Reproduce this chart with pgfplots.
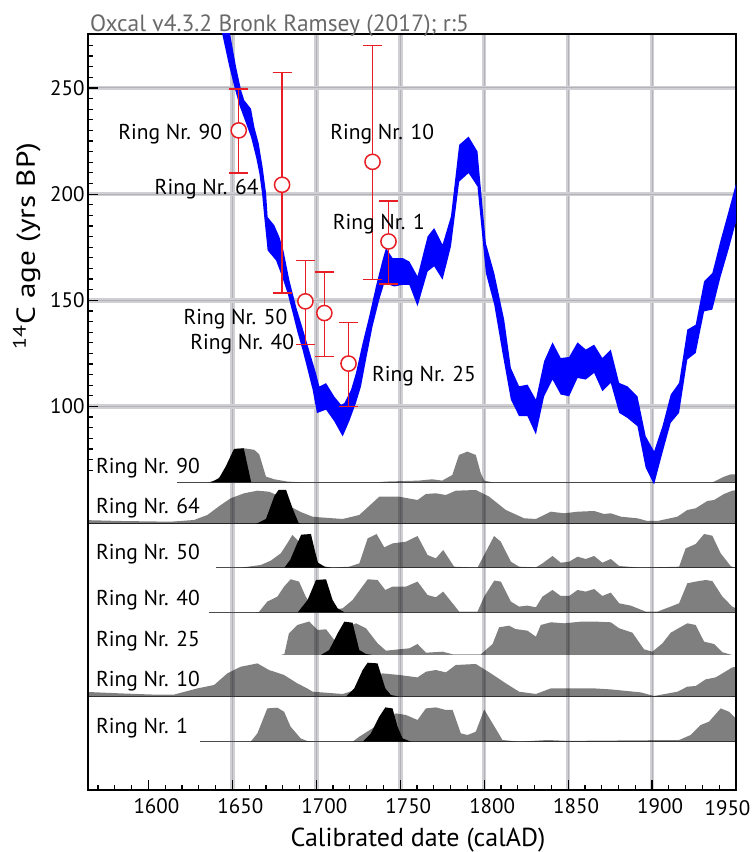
\documentclass[border=0pt]{standalone}
\usepackage{pgfplots}
\pgfplotsset{compat=1.18}
\usepackage{pgfplotstable}
\usepackage{graphicx}
\usepackage{fontspec}
\setmainfont{PT Sans}
\definecolor{ptred}{RGB}{232,30,36}
\definecolor{gridc}{RGB}{208,208,212}
\definecolor{gridd}{RGB}{178,178,184}
\definecolor{titlegray}{RGB}{105,105,105}
\newcommand{\ticfont}{\fontsize{21}{25}\selectfont}
\newcommand{\ringfont}{\fontsize{21.5}{25}\selectfont}
\newcommand{\labfont}{\fontsize{26}{30}\selectfont}
\newcommand{\titfont}{\fontsize{23.5}{27}\selectfont}
\pgfplotsset{
  frame/.style={anchor=south west, width=648pt, height=756pt, scale only axis,
    xmin=1564, xmax=1950, ymin=-80.6, ymax=275.4},
  ridge/.style={anchor=south west, width=648pt, height=40pt, scale only axis,
    xmin=1564, xmax=1950, ymin=0, ymax=40, hide axis}
}
% #1 base (pt above frame bottom), #2 label, #3 label baseline height, #4 gray table, #5 black table, #6 baseline start, #7 baseline width
\newcommand{\ridge}[7]{%
  \begin{axis}[ridge, at={(0pt,#1pt)}]
    \draw[black!70, line width=#7] (axis cs:#6,0) -- (axis cs:1950,0);
    \addplot[fill=black, fill opacity=0.5, draw=none] table {#4} \closedcycle;
    \addplot[fill=black, draw=none] table {#5} \closedcycle;
    \node[anchor=base west, font=\ringfont, inner sep=0pt] at (axis cs:1568.7,#3) {#2};
  \end{axis}}
\begin{document}
% calibration band outline: upper edge left to right, then lower edge right to left
\pgfplotstableread{
x y
1646.4 285
1648.6 275.6
1652.2 259.9
1655.2 248.9
1657.1 244.2
1661.1 240.2
1663.1 231.6
1665.7 223.8
1668.0 212.8
1670.1 200.2
1671.0 189.2
1675.0 185.3
1678.0 179.8
1680.4 173.5
1683.9 159.7
1687.9 147.1
1690.9 139.3
1693.9 131.4
1696.8 123.6
1699.8 115.7
1701.8 109.4
1705.8 111.0
1710.7 104.7
1714.7 100.8
1716.7 101.6
1720.7 107.9
1723.6 115.7
1727.6 129.9
1731.5 142.4
1735.5 156.5
1739.5 169.1
1741.5 174.6
1745.4 169.9
1751.4 169.9
1755.4 168.3
1760.3 161.3
1766.3 180.1
1770.2 184.0
1775.2 176.2
1780.2 189.5
1785.1 223.2
1790.7 227.1
1796.0 220.1
1801.0 176.9
1806.0 162.8
1811.9 140.9
1815.9 118.1
1820.8 109.5
1825.8 110.3
1830.8 103.2
1835.7 121.3
1840.7 130.2
1845.6 122.8
1850.6 123.3
1855.6 130.2
1860.5 126.8
1865.5 129.1
1870.4 122.8
1875.4 126.8
1880.4 111.1
1885.3 109.5
1891.3 104.8
1896.2 86.0
1901.2 78.9
1906.2 90.7
1911.1 105.6
1916.1 111.1
1921.0 136.2
1926.0 138.5
1931.0 158.9
1935.9 162.8
1940.9 178.5
1945.8 192.6
1949.8 204.4
1953 212
1953 194
1949.8 186.3
1945.8 174.6
1940.9 161.3
1935.9 145.6
1931.0 144.8
1926.0 125.2
1921.0 122.1
1916.1 97.0
1911.1 92.3
1906.2 78.2
1901.2 63.3
1896.2 71.1
1891.3 90.7
1885.3 94.6
1880.4 97.0
1875.4 111.1
1870.4 107.2
1865.5 115.8
1860.5 112.7
1855.6 113.4
1850.6 104.8
1845.6 105.6
1840.7 112.7
1835.7 104.8
1830.8 86.8
1825.8 95.4
1820.8 95.4
1815.9 103.2
1810.9 125.2
1806.0 147.9
1801.0 162.8
1796.0 203.6
1790.7 209.9
1785.1 205.9
1780.2 175.4
1775.2 159.7
1770.2 166.0
1766.3 163.6
1760.3 147.2
1755.4 157.3
1751.4 157.3
1746.4 156.5
1740.5 158.1
1737.5 150.3
1733.5 137.7
1729.6 122.0
1726.6 109.4
1723.6 101.6
1719.6 93.0
1715.7 85.9
1710.7 93.0
1705.8 98.5
1700.4 96.9
1697.8 107.9
1694.8 117.3
1691.8 126.7
1688.9 134.6
1685.9 144.0
1682.9 153.4
1679.0 162.5
1676.0 168.8
1671.0 173.5
1669.0 189.2
1667.7 200.2
1666.1 209.6
1664.1 217.5
1661.1 226.9
1658.2 233.2
1654.2 241.8
1651.2 250.5
1648.2 259.9
1643.9 275.6
1641.3 285
}\band
\pgfplotstableread{
x y ep em
1653.8 230.0 19.5 20.0
1679.6 204.4 52.8 51.0
1693.5 149.5 19.1 20.4
1704.8 144.0 19.3 20.4
1719.2 120.2 19.4 20.1
1733.5 215.2 54.7 55.5
1743.0 177.7 19.1 20.0
}\points
% ---- ridge data: x = calendar year, y = height ----
\pgfplotstableread{
x y
1617 0
1635 0
1640 1.5
1644 8
1647 17
1650 30
1652 33.5
1657 34
1663 32.5
1666 28
1670 5.7
1675 3
1683 0.7
1691 0
1737 0
1741 0.7
1761 1.7
1769 3
1775 1.7
1781 7.3
1785 27.3
1790 30.7
1795 27.3
1798 9
1800 1.7
1805 0
1936 0
1937 0.7
1943 5.7
1947 8
1951 8
1951 0
}\grayA
\pgfplotstableread{
x y
1637 0
1642 4
1646 15.7
1651 33.3
1656.8 34
1659 17
1661.2 0
}\blackA
\pgfplotstableread{
x y
1560 0
1560 4
1583.5 3
1613.3 2.3
1627.2 4
1635.1 9
1643.1 19
1649 25.7
1657 30.7
1664.9 33.3
1671.8 32.3
1678.8 27.3
1684.7 17.3
1690.7 12
1697.8 7.3
1701.8 6.7
1715.7 5
1725.6 9
1737.5 27.3
1749.4 27.3
1760.3 24
1765.3 30
1771.2 30.7
1777.2 29
1783.1 33.3
1795 34
1803 27.3
1812.9 14
1820.8 8
1823.8 5.7
1830.8 5
1839.7 12.3
1847.6 10.7
1855.6 12.3
1865.5 13
1871.4 10
1875.4 10.7
1881.4 7.3
1891.3 5.7
1897.2 3
1903.2 3
1915.1 7.3
1921 14
1926 15.7
1932.9 23
1936.9 24
1942.9 30
1947.8 33.3
1951 34
1951 0
}\grayB
\pgfplotstableread{
x y
1664 0
1670 5
1675 28
1677.5 34
1682 34
1686 15
1689.5 1
1691 0
}\blackB
\pgfplotstableread{
x y
1655 0
1666.9 2.7
1672.8 7
1678.8 14.3
1682.7 24.3
1685.7 32.7
1688.7 27.7
1692 20
1697 8
1701 2
1709.7 0
1719.6 1
1725.6 4.3
1730.6 29.3
1735.9 33.7
1740.5 20.3
1745.4 24.3
1753.4 26
1760.3 31.7
1766.3 12.7
1771.2 9.3
1775.6 17.7
1782.1 1
1796 0
1805.9 31.7
1809.9 26
1815.9 6
1820.8 1
1830.8 0.3
1834.7 4.3
1840.7 11.7
1845.6 5
1850.6 6
1855.6 11
1860.5 8.7
1865.5 11.7
1870.4 5
1875.4 8.7
1880.4 1.7
1893.3 0
1916.1 1
1920 19.3
1926 23.7
1931 33.7
1935.9 32
1940.9 14.3
1946.8 1.7
1948.8 0
}\grayC
\pgfplotstableread{
x y
1681 0
1684.5 8
1688 22
1691 33
1696.8 33.7
1699 18
1701 5
1705 1
1709 0
}\blackC
\pgfplotstableread{
x y
1664 0
1665.9 0.5
1670.8 10.7
1676.8 15.7
1680.8 25.7
1684.7 33
1689.7 30.7
1693.7 15.7
1698 5
1705 2
1712 3
1715.7 4
1721.6 12.3
1730.6 33
1736.5 32.3
1741.1 22.3
1745.4 25.7
1753.4 25.7
1760.3 30.7
1766.3 17.3
1771.2 15
1775.6 20.7
1785.1 0.7
1796 0.7
1800 15.7
1806 31.7
1809.9 30.7
1815.9 10.7
1820.8 5.7
1825.8 6.7
1830.8 5
1834.7 15.7
1840.7 22.3
1845.6 16.3
1850.6 16.3
1855.6 22.3
1860.5 20.7
1865.5 23.3
1870.4 16.3
1875.4 19.7
1880.4 9
1887.3 6.7
1896.2 0.7
1903.2 0.7
1911.1 5.7
1916.1 9
1921 29
1926 30.7
1931.9 32.3
1935.9 31.3
1941.9 15.7
1947.8 5.7
1951 3
1951 0
}\grayD
\pgfplotstableread{
x y
1689 0
1694.8 12.3
1699.8 32.3
1705.8 33
1709.7 12.3
1712.7 4
1716.7 0
}\blackD
\pgfplotstableread{
x y
1679 0
1681 1
1683.7 21.7
1688.7 30
1695.8 33.5
1700.8 25
1705.8 25.7
1710.7 15
1715 20
1719 28
1723.6 31.7
1729.6 26.7
1736.5 11.7
1741.5 4.3
1749.4 5.7
1755.4 6.7
1760.3 11
1765.3 2.3
1775.2 3.3
1781.2 0.7
1798 0.7
1805 11
1808.9 27.7
1814.9 29.3
1818.5 26
1825.8 24.3
1830.8 18.3
1833.7 30
1839.7 32.7
1847.6 31.7
1857.5 33.3
1867.5 33.3
1875.4 32.7
1880.4 26.7
1888.3 22.3
1895.2 5.7
1900.2 3.3
1906.2 11.7
1911.1 22.3
1921 31.7
1926 30
1931 13.3
1936.9 11
1941.9 2.7
1947.8 0
}\grayE
\pgfplotstableread{
x y
1702.8 0
1707.7 5
1712.7 21.7
1716.7 33.3
1721.6 32.3
1725.6 5
1729.6 1
1733.5 0
}\blackE
\pgfplotstableread{
x y
1560 0
1560 5
1583.5 3.3
1605 2
1615 2
1629.2 8.3
1639.1 11.7
1647 23.3
1655 30
1664.9 33.3
1671.8 26.7
1680.8 21.7
1688.7 13.3
1694.6 8.3
1697.8 5
1715.7 2.7
1722 6
1735 20
1739.5 23.3
1749.4 21.7
1760.3 19.3
1765.3 25
1771.2 26.7
1777.2 24.3
1783.1 31.7
1795 32.7
1804 23.3
1812.9 13.3
1820.8 5
1830.8 2.7
1839.7 8.3
1855.6 8.3
1865.5 8.3
1875.4 7.3
1893.3 4.3
1901.2 0.7
1915.1 5
1921 10
1926 10.7
1931.9 17.3
1937.9 19.3
1942.9 24.3
1947.8 29.3
1951 30
1951 0
}\grayF
\pgfplotstableread{
x y
1717.7 0
1722.6 8.3
1727.6 26.7
1730.6 34
1736.5 33.3
1741.1 8.3
1744.4 1.7
1749.4 0
}\blackF
\pgfplotstableread{
x y
1660.9 0
1664.9 8.3
1670.8 33.3
1676.8 34
1680.8 30
1684.7 15
1690.7 3.3
1694.6 0.7
1700 0
1721.6 0
1725.6 5
1735 15
1747.4 28.3
1753.4 26.7
1760.3 21.7
1765.3 33.3
1771.2 34.3
1777.2 31.7
1781.2 31.7
1786.1 8.3
1790.1 6.7
1795 10
1800 32.3
1805 18.3
1810.9 1.7
1820.8 0
1837.7 1.7
1850 0.8
1916.1 1.7
1923 6.7
1929 16.7
1933.9 20
1940.9 33.3
1945.8 30
1948.8 25
1951 22
1951 0
}\grayG
\pgfplotstableread{
x y
1727.6 0
1732.5 8.3
1737.5 25
1741.1 34.3
1745.4 33.3
1748.4 15
1751.4 3.3
1756.4 0
}\blackG
\begin{tikzpicture}
\path[use as bounding box] (-88pt,-62pt) rectangle (666pt,790pt);
% grid
\begin{axis}[frame, at={(0pt,0pt)}, hide axis]
  \addplot[draw=none, forget plot] coordinates {(1564,-80.6) (1950,275.4)};
  \pgfplotsinvokeforeach{1650,1700,1750,1800,1850,1900}{
    \draw[gridc, line width=4.5pt] (axis cs:#1,-80.6) -- (axis cs:#1,275.4);
    \draw[gridd, line width=1.1pt] (axis cs:#1,-80.6) -- (axis cs:#1,275.4);
  }
  \pgfplotsinvokeforeach{100,150,200,250}{
    \draw[gridc, line width=4.5pt] (axis cs:1564,#1) -- (axis cs:1950,#1);
    \draw[gridd, line width=1.1pt] (axis cs:1564,#1) -- (axis cs:1950,#1);
  }
\end{axis}
% ridges
\ridge{307.7}{Ring Nr. 90}{9}{\grayA}{\blackA}{1617}{0.7pt}
\ridge{266}{Ring Nr. 64}{10}{\grayB}{\blackB}{1564}{1.8pt}
\ridge{222.3}{Ring Nr. 50}{7.7}{\grayC}{\blackC}{1640}{0.7pt}
\ridge{177.7}{Ring Nr. 40}{6.6}{\grayD}{\blackD}{1636}{0.7pt}
\ridge{135}{Ring Nr. 25}{8.3}{\grayE}{\blackE}{1640}{0.7pt}
\ridge{93.3}{Ring Nr. 10}{10}{\grayF}{\blackF}{1564}{1.8pt}
\ridge{48.3}{Ring Nr. 1}{8.4}{\grayG}{\blackG}{1631}{0.7pt}
% main
\begin{axis}[frame, at={(0pt,0pt)},
  xtick={1600,1650,...,1950},
  xticklabels={1600,1650,1700,1750,1800,1850,1900,{}},
  minor xtick={1570,1580,...,1950},
  ytick={100,150,200,250},
  minor ytick={70,75,...,275},
  tick pos=left, tick align=inside,
  major tick length=10pt, minor tick length=5.5pt,
  every tick/.style={black, line width=1.2pt},
  axis line style={line width=1.5pt},
  ticklabel style={font=\ticfont},
  xticklabel style={xshift=8pt, yshift=-5pt},
  /pgf/number format/assume math mode=true,
  /pgf/number format/1000 sep={},
]
\addplot[fill=blue, draw=none] table {\band};
\addplot[ptred, only marks, mark=none,
  error bars/.cd, y dir=both, y explicit,
  error bar style={line width=1.3pt, ptred},
  error mark options={rotate=90, mark size=9.5pt, line width=1.3pt, ptred}]
  table[x=x, y=y, y error plus=ep, y error minus=em] {\points};
\addplot[only marks, mark=*, mark size=7.6pt,
  mark options={fill=white, draw=ptred, line width=1.5pt}]
  table[x=x, y=y] {\points};
\node[anchor=base east, font=\ringfont, inner sep=0pt] at (axis cs:1644.0,225.6) {Ring Nr. 90};
\node[anchor=base east, font=\ringfont, inner sep=0pt] at (axis cs:1665.7,199.7) {Ring Nr. 64};
\node[anchor=base east, font=\ringfont, inner sep=0pt] at (axis cs:1682.9,138.5) {Ring Nr. 50};
\node[anchor=base east, font=\ringfont, inner sep=0pt] at (axis cs:1686.9,126.7) {Ring Nr. 40};
\node[anchor=base west, font=\ringfont, inner sep=0pt] at (axis cs:1708.2,225.6) {Ring Nr. 10};
\node[anchor=base west, font=\ringfont, inner sep=0pt] at (axis cs:1709.7,183.3) {Ring Nr. 1};
\node[anchor=base west, font=\ringfont, inner sep=0pt] at (axis cs:1733.1,111.8) {Ring Nr. 25};
\end{axis}
\node[anchor=base, font=\ticfont, inner sep=0pt] at (639.5pt,-25pt) {1950};
\node[anchor=base west, font=\titfont, text=titlegray, inner sep=0pt] at (2pt,758pt) {Oxcal v4.3.2 Bronk Ramsey (2017); r:5};
\node[anchor=base, font=\labfont, inner sep=0pt] at (330pt,-56pt) {Calibrated date (calAD)};
\node[rotate=90, anchor=base, font=\labfont, inner sep=0pt] at (-53pt,544pt) {\scalebox{1.2}[1]{\textsuperscript{14}C age (yrs BP)}};
\end{tikzpicture}
\end{document}
